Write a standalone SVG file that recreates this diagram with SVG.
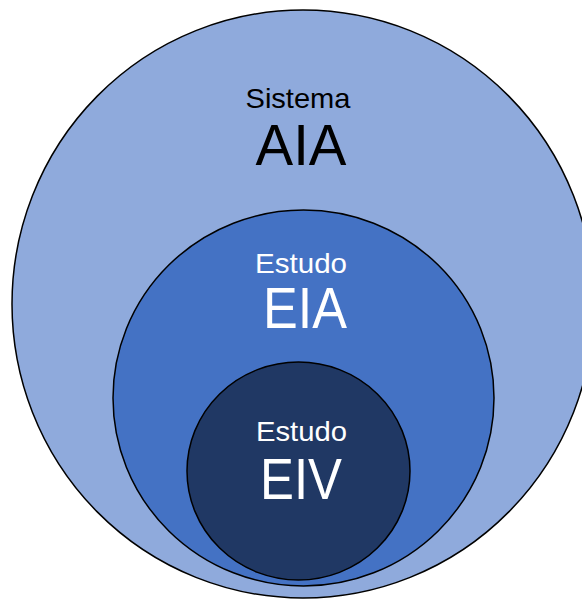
<svg xmlns="http://www.w3.org/2000/svg" width="582" height="599" viewBox="0 0 582 599">
<style>
.c{stroke:#000;stroke-width:1.5}
.t{font-family:"Liberation Sans",Arial,sans-serif;text-anchor:middle}
.s{font-size:28px}
.b{font-size:57px}
.k{fill:#000}
.w{fill:#fff}
</style>
<rect width="582" height="599" fill="#fff"/>
<g id="aia">
<ellipse class="c" cx="303" cy="304" rx="291" ry="294" fill="#8FAADC"/>
<text class="t s k" x="298" y="108" textLength="105" lengthAdjust="spacingAndGlyphs">Sistema</text>
<text class="t b k" x="301" y="165" textLength="91" lengthAdjust="spacingAndGlyphs">AIA</text>
</g>
<g id="eia">
<ellipse class="c" cx="303.5" cy="398" rx="190.5" ry="188" fill="#4472C4"/>
<text class="t s w" x="301" y="273" textLength="92" lengthAdjust="spacingAndGlyphs">Estudo</text>
<text class="t b w" x="305" y="328" textLength="84" lengthAdjust="spacingAndGlyphs">EIA</text>
</g>
<g id="eiv">
<ellipse class="c" cx="298.5" cy="471" rx="111.5" ry="109" fill="#203864"/>
<text class="t s w" x="301.5" y="441" textLength="91" lengthAdjust="spacingAndGlyphs">Estudo</text>
<text class="t b w" x="301" y="499" textLength="82" lengthAdjust="spacingAndGlyphs">EIV</text>
</g>
<g id="connectors"/>
</svg>
